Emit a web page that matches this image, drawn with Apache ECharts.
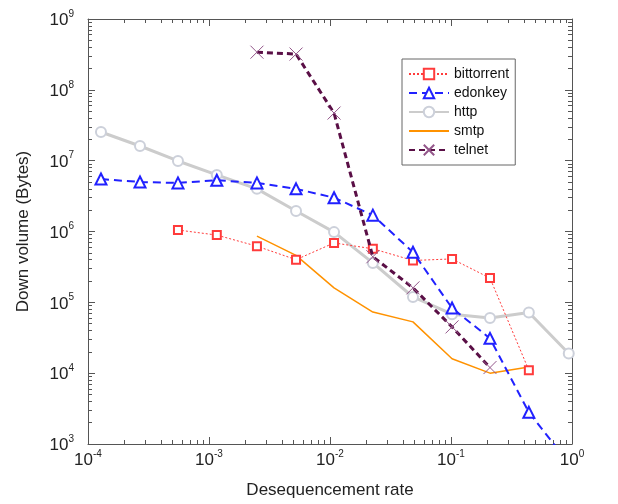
<!DOCTYPE html>
<html>
<head>
<meta charset="utf-8">
<script src="https://cdn.jsdelivr.net/npm/echarts@6/dist/echarts.min.js"></script>
<style>
html,body{margin:0;padding:0;background:#fff;}
#chart{width:618px;height:504px;}
</style>
</head>
<body>
<div id="chart"></div>
<script>
// Desequencement rate values (x positions of the measurement points)
const xRates = [1.28e-4, 2.69e-4, 5.54e-4, 1.16e-3, 2.49e-3, 5.24e-3, 1.08e-2, 2.26e-2, 4.85e-2, 0.102, 0.21, 0.44, 0.94];

// Down volume (Bytes) per protocol, aligned with xRates (null = no point)
const bittorrentY = [null, null, 1.05e6, 8.9e5, 6.2e5, 4.0e5, 6.9e5, 5.7e5, 3.9e5, 4.1e5, 2.2e5, 1.1e4, null];
const edonkeyY    = [5.5e6, 5.0e6, 4.85e6, 5.3e6, 4.85e6, 4.0e6, 3.0e6, 1.7e6, 5.1e5, 8.3e4, 3.1e4, 2.8e3, 5.4e2];
const httpY       = [2.54e7, 1.61e7, 9.9e6, 6.3e6, 4.0e6, 1.95e6, 9.8e5, 3.6e5, 1.19e5, 6.8e4, 6.0e4, 7.2e4, 1.9e4];
const smtpY       = [null, null, null, null, 8.6e5, 4.6e5, 1.6e5, 7.3e4, 5.3e4, 1.6e4, 1.0e4, 1.22e4, null];
const telnetY     = [null, null, null, null, 3.4e8, 3.2e8, 4.7e7, 4.4e5, 1.6e5, 4.5e4, 1.2e4, null, null];

const seriesNames = ['bittorrent', 'edonkey', 'http', 'smtp', 'telnet'];
const xTitle = 'Desequencement rate';
const yTitle = 'Down volume (Bytes)';

function pairs(ys) {
  const out = [];
  ys.forEach((y, i) => { if (y !== null) out.push([xRates[i], y]); });
  return out;
}

const FONT = '"Liberation Sans", Arial, Helvetica, sans-serif';
const AXIS_COLOR = '#555';

function expLabel(v) {
  const e = Math.round(Math.log10(v));
  return '{b|10}{s|' + e + '}';
}
const richLabel = {
  b: { fontSize: 17, fontFamily: FONT, color: '#222', lineHeight: 20, verticalAlign: 'bottom' },
  s: { fontSize: 10, fontFamily: FONT, color: '#222', lineHeight: 10, verticalAlign: 'top' }
};

function frameAxis(position, isX) {
  return {
    type: 'log',
    logBase: 10,
    position: position,
    min: isX ? 1e-4 : 1e3,
    max: isX ? 1 : 1e9,
    axisLine: { show: true, onZero: false, lineStyle: { color: AXIS_COLOR, width: 1 } },
    axisTick: { show: true, inside: true, length: 7, lineStyle: { color: AXIS_COLOR } },
    minorTick: { show: true, splitNumber: 9, length: 4, lineStyle: { color: AXIS_COLOR, width: 1 } },
    axisLabel: { show: false },
    splitLine: { show: false },
    minorSplitLine: { show: false }
  };
}

const xMain = Object.assign(frameAxis('bottom', true), {
  name: xTitle,
  nameLocation: 'middle',
  nameGap: 38,
  nameTextStyle: { fontSize: 17, fontFamily: FONT, color: '#222' },
  axisLabel: { show: true, margin: 5, formatter: expLabel, rich: richLabel, showMinLabel: true, showMaxLabel: true }
});
const yMain = Object.assign(frameAxis('left', false), {
  name: yTitle,
  nameLocation: 'middle',
  nameGap: 56,
  nameTextStyle: { fontSize: 17, fontFamily: FONT, color: '#222' },
  axisLabel: { show: true, margin: 14, formatter: expLabel, rich: richLabel, showMinLabel: true, showMaxLabel: true }
});

const option = {
  backgroundColor: '#fff',
  animation: false,
  grid: { left: 88, right: 46, top: 19, bottom: 60, containLabel: false },
  xAxis: [xMain, frameAxis('top', true)],
  yAxis: [yMain, frameAxis('right', false)],
  legend: {
    data: [
      { name: seriesNames[0] },
      { name: seriesNames[1] },
      { name: seriesNames[2] },
      { name: seriesNames[3], itemStyle: { opacity: 0 } },
      { name: seriesNames[4] }
    ],
    orient: 'vertical',
    left: 402,
    top: 59,
    backgroundColor: '#fff',
    borderColor: '#666',
    borderWidth: 1,
    padding: [8, 6, 8, 6],
    itemGap: 5,
    itemWidth: 40,
    itemHeight: 13,
    textStyle: { fontSize: 14, fontFamily: FONT, color: '#111' }
  },
  series: [
    {
      name: seriesNames[0], type: 'line', data: pairs(bittorrentY),
      symbol: 'emptyRect', symbolSize: 8,
      itemStyle: { color: '#ff3b3b', borderColor: '#ff3b3b', borderWidth: 1 },
      lineStyle: { color: '#ff3b3b', width: 1, type: [2, 2] },
      z: 3
    },
    {
      name: seriesNames[1], type: 'line', data: pairs(edonkeyY),
      symbol: 'emptyTriangle', symbolSize: 11,
      itemStyle: { color: '#2121ff', borderColor: '#2121ff', borderWidth: 1 },
      lineStyle: { color: '#2121ff', width: 2, type: [8, 5] },
      z: 4
    },
    {
      name: seriesNames[2], type: 'line', data: pairs(httpY),
      symbol: 'emptyCircle', symbolSize: 10,
      itemStyle: { color: '#ccd0da', borderColor: '#ccd0da', borderWidth: 1 },
      lineStyle: { color: '#cccccc', width: 3, type: 'solid' },
      z: 2
    },
    {
      name: seriesNames[3], type: 'line', data: pairs(smtpY),
      symbol: 'none',
      itemStyle: { color: '#ff9200' },
      lineStyle: { color: '#ff9200', width: 1.5, type: 'solid' },
      z: 3
    },
    {
      name: seriesNames[4], type: 'line', data: pairs(telnetY),
      symbol: 'path://M0,0L10,10M10,0L0,10', symbolSize: 13,
      itemStyle: { color: '#93568a', borderColor: '#93568a', borderWidth: 1 },
      lineStyle: { color: '#5a0f46', width: 3, type: [6, 4] },
      z: 5
    }
  ]
};

const chart = echarts.init(document.getElementById('chart'), null, { renderer: 'canvas' });
chart.setOption(option);
</script>
</body>
</html>
